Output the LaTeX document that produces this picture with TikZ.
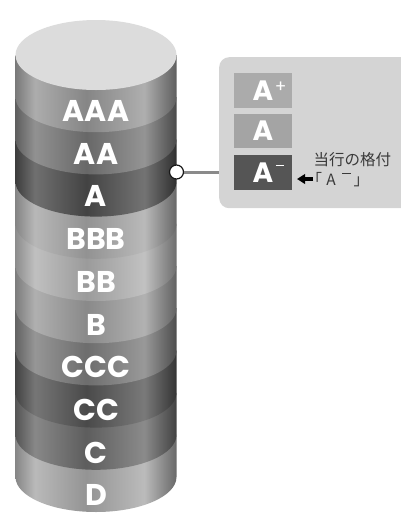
\documentclass[tikz,border=0pt]{standalone}
\usepackage{fontspec}
\newfontfamily\labfont{Poppins}
\newfontfamily\cjk{Noto Sans CJK JP}
\usetikzlibrary{arrows.meta}
\definecolor{topface}{HTML}{DCDCDC}
\definecolor{bAAA}{HTML}{989898}
\definecolor{bAA}{HTML}{767676}
\definecolor{bA}{HTML}{4C4C4C}
\definecolor{bBBB}{HTML}{A6A6A6}
\definecolor{bBB}{HTML}{B0B0B0}
\definecolor{bB}{HTML}{9C9C9C}
\definecolor{bCCC}{HTML}{7C7C7C}
\definecolor{bCC}{HTML}{545454}
\definecolor{bC}{HTML}{6A6A6A}
\definecolor{bD}{HTML}{A8A8A8}
\definecolor{calloutgray}{HTML}{D4D4D4}
\definecolor{boxlight}{HTML}{ABABAB}
\definecolor{boxmid}{HTML}{A4A4A4}
\definecolor{boxdark}{HTML}{555555}
\definecolor{linkgray}{HTML}{8A8A8A}
\definecolor{txtdark}{HTML}{3A3A3A}
\newcommand\mkband[2]{\pgfdeclarehorizontalshading{#1}{100bp}{%
  color(0bp)=(#2!80!black); color(25bp)=(#2!80!black);
  color(31bp)=(#2!80!white); color(47bp)=(#2!88!black);
  color(65bp)=(#2!78!white); color(75bp)=(#2!62!black);
  color(100bp)=(#2!62!black)}}
\mkband{shAAA}{bAAA}
\mkband{shAA}{bAA}
\mkband{shA}{bA}
\mkband{shBBB}{bBBB}
\mkband{shBB}{bBB}
\mkband{shB}{bB}
\mkband{shCCC}{bCCC}
\mkband{shCC}{bCC}
\mkband{shC}{bC}
\mkband{shD}{bD}
\tikzset{
  bandlabel/.style={text=white, font=\labfont\bfseries\fontsize{30}{30}\selectfont, inner sep=0pt},
  gradebox/.style={minimum width=58pt, minimum height=34.5pt, inner sep=0pt, text=white,
     font=\labfont\bfseries\fontsize{28}{28}\selectfont},
  cjktext/.style={text=txtdark, font=\cjk\fontsize{15.5}{15.5}\selectfont, inner sep=0pt},
}
\newcommand\gplus{\rlap{\kern1.5pt\raisebox{8.2pt}{\fontsize{17}{17}\mdseries\selectfont +}}}
\newcommand\gminus{\rlap{\kern2.5pt\rule[16pt]{8.5pt}{1.6pt}}}
\begin{document}
\begin{tikzpicture}[x=1pt,y=-1pt]
\useasboundingbox (0,0) rectangle (401,515);
% cylinder bands, bottom to top
\foreach \k/\sh in {9/shD,8/shC,7/shCC,6/shCCC,5/shB,4/shBB,3/shBBB,2/shA,1/shAA,0/shAAA}{
  \pgfmathsetmacro\ya{55+42.2*\k}
  \pgfmathsetmacro\yb{55+42.2*(\k+1)}
  \shade[shading=\sh] (15.5,\ya) -- (15.5,\yb)
     arc[start angle=180,end angle=0,x radius=80.5,y radius=35] -- (176.5,\ya) -- cycle;
}
\fill[topface] (96,55) ellipse[x radius=80.5, y radius=35];
% band labels
\foreach \k/\t in {0/AAA,1/AA,2/A,3/BBB,4/BB,5/B,6/CCC,7/CC,8/C,9/D}{
  \node[bandlabel] (lab\t) at (96,{111+42.7*\k}) {\t};
}
% callout
\node[fill=calloutgray, rounded corners=10pt, minimum width=240pt, minimum height=151pt,
      anchor=north west, inner sep=0pt] (callout) at (219,57) {};
\node[gradebox, fill=boxlight] (gAplus) at (263,90.5) {A\gplus};
\node[gradebox, fill=boxmid] (gA) at (263,131) {A};
\node[gradebox, fill=boxdark] (gAminus) at (263,172.5) {A\gminus};
\node[cjktext, anchor=base west] (note1) at (313.5,165.5) {当行の格付};
\node[cjktext, anchor=base west] (note2) at (306.5,185)
   {「\makebox[18pt]{A}\makebox[13.5pt]{\rule[11.5pt]{9pt}{1pt}}」};
\coordinate (arrtail) at (313,179);
\coordinate (arrhead) at (297,179);
\draw[line width=4pt, -{Triangle[length=8pt,width=9.5pt]}] (arrtail) -- (arrhead);
% connector
\node[circle, draw=black!90, fill=white, line width=1.2pt, minimum size=14pt, inner sep=0pt] (dot) at (176.5,172) {};
\draw[linkgray, line width=3pt] (dot.east) -- (dot.east -| callout.west);
\end{tikzpicture}
\end{document}
